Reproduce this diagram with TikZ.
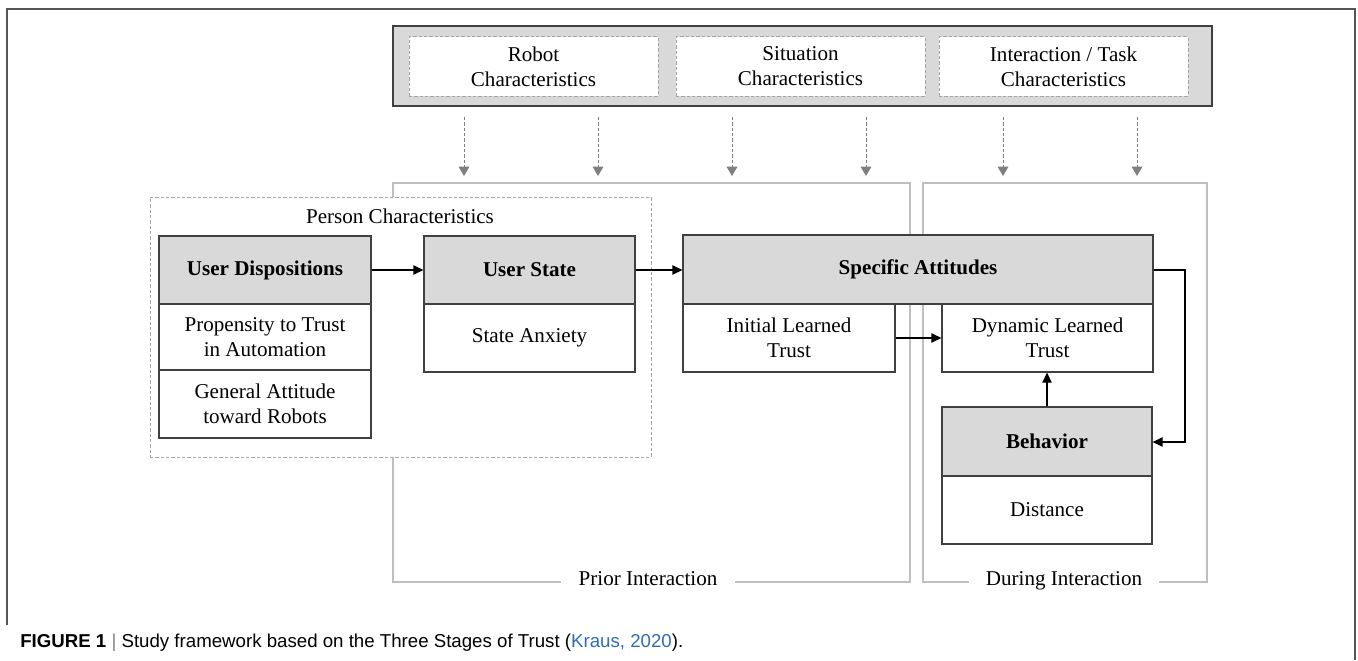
\documentclass[tikz,border=0pt]{standalone}
\usepackage{fontspec}
\setmainfont{Liberation Serif}
\setsansfont{Liberation Sans}
\usetikzlibrary{fit,arrows.meta}
\definecolor{hdr}{HTML}{D9D9D9}
\definecolor{edge}{HTML}{404040}
\definecolor{frm}{HTML}{BFBFBF}
\definecolor{dsh}{HTML}{A6A6A6}
\definecolor{garr}{HTML}{7F7F7F}
\definecolor{outer}{HTML}{555555}
\definecolor{linkc}{HTML}{2E6DB4}
\begin{document}
\begin{tikzpicture}[x=0.75pt,y=-0.75pt,
  font=\fontsize{15.8pt}{18.75pt}\selectfont,
  cell/.style={draw=edge, line width=0.9pt, inner sep=0pt, align=center},
  hcell/.style={cell, fill=hdr, font=\fontsize{15.8pt}{18.75pt}\selectfont\bfseries},
  dbox/.style={draw=dsh, line width=0.75pt, dash pattern=on 2.5pt off 1.5pt, fill=white, inner sep=0pt, align=center},
  frame/.style={draw=frm, line width=0.9pt, inner sep=0pt},
  flabel/.style={fill=white, inner xsep=13pt, inner ysep=2pt, text height=1.55ex, text depth=0.45ex},
  garrow/.style={draw=garr, line width=0.75pt, dash pattern=on 2.5pt off 1.5pt, -{Triangle[length=7pt,width=8pt,fill=garr]}},
  barrow/.style={draw=black, line width=0.9pt, -{Triangle[length=7.5pt,width=7pt]}}
]
\useasboundingbox (0,0) rectangle (1358,660);

% outer frame
\draw[outer, line width=1.2pt] (7,625) -- (7,9) -- (1355,9) -- (1355,660);

% top characteristics
\node[fit={(393,26)(1212,106)}, draw=edge, line width=1.5pt, fill=hdr, inner sep=0pt] (top) {};
\node[dbox, fit={(409,37)(658,96)}] (robotb) {};
\node[align=center] (robot) at (robotb.center) {Robot\\Characteristics};
\node[dbox, fit={(676,37)(925,96)}] (situb) {};
\node[align=center] (situ) at (situb.center) {Situation\\Characteristics};
\node[dbox, fit={(939,37)(1188,96)}] (taskb) {};
\node[align=center] (task) at (taskb.center) {Interaction / Task\\Characteristics};

% grey arrows
\foreach \i/\x in {1/464,2/598,3/732,4/866,5/1003,6/1137}{
  \coordinate (gs\i) at (\x,117);
  \coordinate (ge\i) at (\x,176);
  \draw[garrow] (gs\i) -- (ge\i);
}

% interaction frames
\node[frame, fit={(393,183)(910,582)}] (priorf) {};
\node[frame, fit={(923,183)(1207,582)}] (duringf) {};
\node[flabel] (prior) at (648,582) {Prior Interaction};
\node[flabel] (during) at (1064,582) {During Interaction};

% person characteristics
\node[dbox, fit={(150,197)(651,457)}] (person) {};
\node (personl) at (400,216) {Person Characteristics};

% user dispositions
\node[hcell, fit={(159,236)(371,304)}] (ud) {};
\node[font=\fontsize{15.8pt}{18.75pt}\selectfont\bfseries] at (ud.center) {User Dispositions};
\node[cell, fit={(159,304)(371,370)}] (prop) {};
\node[align=center] at (prop.center) {Propensity to Trust\\in Automation};
\node[cell, fit={(159,370)(371,438)}] (gen) {};
\node[align=center] at (gen.center) {General Attitude\\toward Robots};

% user state
\node[hcell, fit={(424,236)(635,304)}] (us) {};
\node[font=\fontsize{15.8pt}{18.75pt}\selectfont\bfseries] at (us.center) {User State};
\node[cell, fit={(424,304)(635,372)}] (sanx) {};
\node at (sanx.center) {State Anxiety};

% specific attitudes
\node[hcell, fit={(683,235)(1153,304)}] (sa) {};
\node[font=\fontsize{15.8pt}{18.75pt}\selectfont\bfseries] at (sa.center) {Specific Attitudes};
\node[cell, fit={(683,304)(895,372)}] (ilt) {};
\node[align=center] at (ilt.center) {Initial Learned\\Trust};
\node[cell, fit={(942,304)(1153,372)}] (dlt) {};
\node[align=center] at (dlt.center) {Dynamic Learned\\Trust};

% behavior
\node[hcell, fit={(942,407)(1152,476)}] (beh) {};
\node[font=\fontsize{15.8pt}{18.75pt}\selectfont\bfseries] at (beh.center) {Behavior};
\node[cell, fit={(942,476)(1152,544)}] (dist) {};
\node at (dist.center) {Distance};

% black arrows
\draw[barrow] (ud.east) -- (us.west);
\draw[barrow] (us.east) -- (us.east -| sa.west);
\draw[barrow] (ilt.east) -- (ilt.east -| dlt.west);
\draw[barrow] (beh.north) -- (beh.north |- dlt.south);
\coordinate (fb1) at (1185,270);
\coordinate (fb2) at (1185,442);
\draw[barrow] (sa.east |- fb1) -- (fb1) -- (fb2) -- (fb2 -| beh.east);

% caption
\node[anchor=west, inner sep=0pt, font=\sffamily\fontsize{14pt}{16pt}\selectfont] (cap) at (20,643)
  {\textbf{FIGURE 1} {\color{gray}|} Study framework based on the Three Stages of Trust ({\color{linkc}Kraus, 2020}).};
\end{tikzpicture}
\end{document}
